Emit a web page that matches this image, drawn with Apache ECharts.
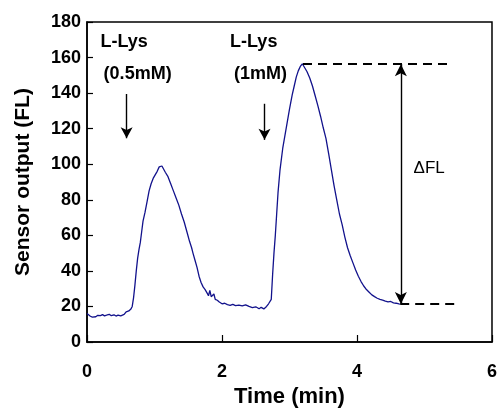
<!DOCTYPE html>
<html><head><meta charset="utf-8">
<script src="https://cdn.jsdelivr.net/npm/echarts@6/dist/echarts.min.js"></script>
<style>html,body{margin:0;padding:0;background:#fff}#c{width:500px;height:413px}</style>
</head><body><div id="c"></div>
<script>
// Time (min) and sensor output (FL)
var timeMin = [0,0.02,0.05,0.08,0.1,0.13,0.16,0.2,0.23,0.26,0.3,0.33,0.36,0.4,0.43,0.46,0.5,0.52,0.55,0.58,0.62,0.65,0.67,0.69,0.71,0.73,0.75,0.77,0.79,0.81,0.83,0.86,0.89,0.92,0.95,0.98,1.01,1.04,1.07,1.09,1.11,1.13,1.16,1.2,1.24,1.28,1.32,1.36,1.4,1.44,1.48,1.52,1.55,1.57,1.6,1.63,1.66,1.69,1.72,1.75,1.78,1.8,1.82,1.84,1.86,1.88,1.9,1.93,1.96,2.0,2.04,2.08,2.12,2.16,2.2,2.25,2.3,2.35,2.4,2.45,2.5,2.55,2.58,2.62,2.66,2.69,2.71,2.73,2.75,2.77,2.79,2.81,2.83,2.86,2.9,2.95,3.0,3.04,3.07,3.1,3.13,3.16,3.19,3.21,3.23,3.26,3.3,3.34,3.38,3.42,3.46,3.5,3.54,3.58,3.62,3.66,3.7,3.74,3.78,3.82,3.86,3.9,3.94,3.98,4.02,4.06,4.1,4.14,4.18,4.22,4.26,4.3,4.34,4.38,4.42,4.46,4.5,4.54,4.58,4.62,4.64];
var sensorFL = [16,15.2,14.5,14,14.6,14.2,15,14.8,15.4,14.7,15.2,15.6,14.8,15.3,14.6,15.1,14.7,14.2,15.5,17,17.5,18.5,20,25,32,40,47,52,56,62,68,73,79,85,89,92,94,96,98.5,99.5,99,98,95.5,93,89,85,81,77,72,67.5,62,56.5,53,50,46,42,37,33.5,31,29.5,27.5,26,29,25.5,24.5,27,24,23.5,22.5,21.5,21.8,21,20.6,21.2,20.5,20.8,20.3,20.9,20,19.4,19.8,18.7,19.5,18.6,20,21.5,22,24,38,50,60,72,84,97,109,120,131,139,144,149,152.5,155,156.5,156,154,152,148.5,144,138.5,133,127,120.5,114.5,106,97,88,80,72,66,59,53,48.5,44.5,40.5,37,34,31.5,29.5,28,26.5,25.5,24.6,24,23.6,23,22.6,22.8,22,21.8,21.4,21.3];

var xTicks = {min: 0, max: 6, interval: 2};
var yTicks = {min: 0, max: 180, interval: 20};

// Annotation texts and their data positions [time, FL]
var noteTexts = ['L-Lys', '(0.5mM)', 'L-Lys', '(1mM)'];
var notePos = [[0.55, 169], [0.75, 150.6], [2.47, 169], [2.57, 150.6]];
// Injection arrows: [time, top FL, bottom FL]
var injectArrows = [[0.587, 139.5, 114.6], [2.63, 134, 113.7]];
// Delta FL: peak level, baseline level, arrow time, dashed-line end times
var peakLevel = 156.3, baseLevel = 21.4;
var deltaTime = 4.65;
var peakDashFrom = 3.2, peakDashTo = 5.41;
var baseDashFrom = 4.64, baseDashTo = 5.45;
var deltaLabel = 'ΔFL', deltaLabelPos = [5.07, 97.5];

var seriesData = timeMin.map(function (t, i) { return [t, sensorFL[i]]; });
var font = 'Arial, "Liberation Sans", Helvetica, sans-serif';

var chart = echarts.init(document.getElementById('c'), null, {renderer: 'canvas'});
chart.setOption({
  animation: false,
  backgroundColor: '#fff',
  grid: {left: 87, right: 7, top: 22, bottom: 66, show: true, borderColor: '#000', borderWidth: 1.5, containLabel: false},
  xAxis: {
    type: 'value', min: xTicks.min, max: xTicks.max, interval: xTicks.interval,
    name: 'Time (min)', nameLocation: 'middle', nameGap: 44,
    nameTextStyle: {fontFamily: font, fontWeight: 'bold', fontSize: 22, color: '#000'},
    axisLine: {lineStyle: {color: '#000', width: 1.5}},
    axisTick: {inside: true, length: 7, lineStyle: {color: '#000', width: 1.2}},
    axisLabel: {fontFamily: font, fontWeight: 'bold', fontSize: 18, color: '#000', margin: 21},
    splitLine: {show: false}
  },
  yAxis: {
    type: 'value', min: yTicks.min, max: yTicks.max, interval: yTicks.interval,
    name: 'Sensor output (FL)', nameLocation: 'middle', nameGap: 53, nameRotate: 90,
    nameTextStyle: {fontFamily: font, fontWeight: 'bold', fontSize: 21, color: '#000'},
    axisLine: {lineStyle: {color: '#000', width: 1.5}},
    axisTick: {inside: true, length: 6, lineStyle: {color: '#000', width: 1.2}},
    axisLabel: {fontFamily: font, fontWeight: 'bold', fontSize: 18, color: '#000', margin: 6},
    splitLine: {show: false}
  },
  series: [
    {
      type: 'line', data: seriesData, showSymbol: false, symbol: 'none',
      lineStyle: {color: '#12128c', width: 1.3}, silent: true,
      markLine: {
        silent: true, animation: false, label: {show: false},
        data: [
          [{coord: [peakDashFrom, peakLevel], symbol: 'none'}, {coord: [peakDashTo, peakLevel], symbol: 'none'}],
          [{coord: [baseDashFrom, baseLevel], symbol: 'none'}, {coord: [baseDashTo, baseLevel], symbol: 'none'}]
        ],
        lineStyle: {color: '#000', width: 2, type: [9, 6]}
      }
    },
    {
      type: 'line', data: [], silent: true,
      markLine: {
        silent: true, animation: false, label: {show: false},
        symbol: ['arrow', 'arrow'], symbolSize: [9, 12],
        lineStyle: {color: '#000', width: 1.4, type: 'solid'},
        data: [
          [{coord: [deltaTime, baseLevel]}, {coord: [deltaTime, peakLevel]}]
        ].concat(injectArrows.map(function (a) {
          return [{coord: [a[0], a[1]], symbol: 'none'}, {coord: [a[0], a[2]], symbol: 'arrow', symbolSize: [9, 11]}];
        }))
      }
    },
    {
      type: 'scatter', symbolSize: 0, silent: true, itemStyle: {opacity: 1},
      data: notePos.map(function (p, i) { return {value: p, name: noteTexts[i]}; }),
      label: {show: true, position: 'inside', formatter: '{b}', fontFamily: font, fontWeight: 'bold', fontSize: 18, color: '#000', opacity: 1}
    },
    {
      type: 'scatter', symbolSize: 0, silent: true, itemStyle: {opacity: 1},
      data: [{value: deltaLabelPos, name: deltaLabel}],
      label: {show: true, position: 'inside', formatter: '{b}', fontFamily: font, fontSize: 17, color: '#000', opacity: 1}
    }
  ]
});
</script></body></html>
